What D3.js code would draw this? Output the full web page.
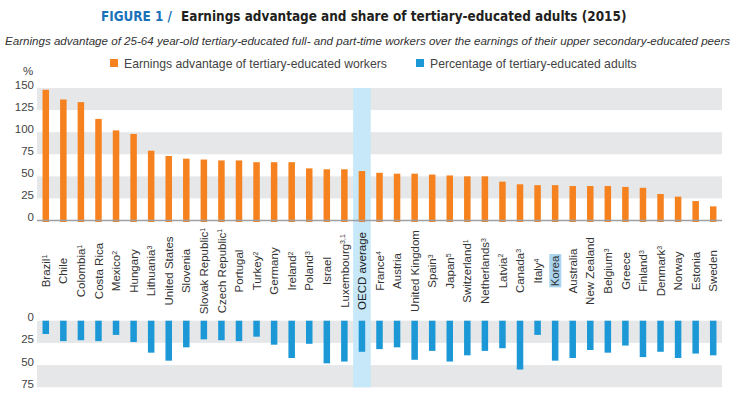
<!DOCTYPE html>
<html>
<head>
<meta charset="utf-8">
<script src="https://cdn.jsdelivr.net/npm/d3@7/dist/d3.min.js"></script>
<style>
  body { margin: 0; background: #fff; }
  svg { display: block; font-family: "Liberation Sans", Arial, sans-serif; }
</style>
</head>
<body>
<script>
// countries, left to right
var countries = ["Brazil", "Chile", "Colombia", "Costa Rica", "Mexico", "Hungary", "Lithuania",
  "United States", "Slovenia", "Slovak Republic", "Czech Republic", "Portugal", "Turkey", "Germany",
  "Ireland", "Poland", "Israel", "Luxembourg", "OECD average", "France", "Austria", "United Kingdom",
  "Spain", "Japan", "Switzerland", "Netherlands", "Latvia", "Canada", "Italy", "Korea", "Australia",
  "New Zealand", "Belgium", "Greece", "Finland", "Denmark", "Norway", "Estonia", "Sweden"];
// footnote numbers shown as superscripts
var notes = ["1", "", "1", "", "2", "", "3", "", "", "1", "1", "", "2", "", "2", "3", "", "3,1", "",
  "4", "", "", "3", "5", "1", "3", "2", "3", "4", "", "", "", "3", "", "3", "3", "", "", ""];
// earnings advantage of tertiary-educated workers (%)
var earnings = [148, 137, 134, 115, 102, 98, 79, 73, 70, 69, 68, 68, 66, 66, 66, 59, 58, 58, 56,
  54, 53, 53, 52, 51, 50, 50, 44, 41, 40, 40, 39, 39, 39, 38, 37, 30, 27, 22, 16];
// percentage of tertiary-educated adults
var share = [15, 23, 22, 23, 16, 24, 36, 45, 30, 21, 22, 23, 18, 27, 42, 26, 48, 46, 35,
  32, 30, 44, 34, 46, 39, 34, 31, 55, 16, 45, 42, 33, 36, 28, 41, 35, 42, 37, 39];
var topTicks = [0, 25, 50, 75, 100, 125, 150];
var bottomTicks = [0, 25, 50, 75];

var width = 736, height = 399;
var left = 37, right = 722;

var svg = d3.select("body").append("svg")
  .attr("width", width)
  .attr("height", height);

var x = d3.scaleBand()
  .domain(countries)
  .range([left, right])
  .paddingInner(0.63)
  .paddingOuter(0.315);

var yTop = d3.scaleLinear().domain([0, 150]).range([220.5, 88]);
var yBot = d3.scaleLinear().domain([0, 75]).range([320.7, 387.3]);

// fit a text's font size so it spans the given width
function fitText(sel, w) {
  var size = parseFloat(sel.style("font-size"));
  var len = sel.node().getComputedTextLength();
  sel.style("font-size", (size * w / len) + "px");
}

// title
var titleFont = "'DejaVu Sans Condensed', 'DejaVu Sans', sans-serif";
var fig = svg.append("text")
  .attr("x", 101).attr("y", 21)
  .attr("fill", "#1a72b9")
  .style("font-family", titleFont)
  .style("font-weight", "bold")
  .style("font-size", "14px")
  .text("FIGURE 1  /");
fitText(fig, 71);
var main = svg.append("text")
  .attr("x", 181).attr("y", 21)
  .attr("fill", "#231f20")
  .style("font-family", titleFont)
  .style("font-weight", "bold")
  .style("font-size", "14px")
  .text("Earnings advantage and share of tertiary-educated adults (2015)");
fitText(main, 446);

var sub = svg.append("text")
  .attr("x", 5).attr("y", 45)
  .attr("fill", "#333")
  .style("font-style", "italic")
  .style("font-size", "11.5px")
  .text("Earnings advantage of 25-64 year-old tertiary-educated full- and part-time workers over the earnings of their upper secondary-educated peers");
fitText(sub, 726);

// legend
var legend = [
  { label: "Earnings advantage of tertiary-educated workers", color: "#f5821f", x: 110 },
  { label: "Percentage of tertiary-educated adults", color: "#1b98d5", x: 416 }
];
legend.forEach(function(l) {
  svg.append("rect").attr("x", l.x).attr("y", 59).attr("width", 8).attr("height", 8).attr("fill", l.color);
  svg.append("text").attr("x", l.x + 14).attr("y", 67.5)
    .attr("fill", "#444").style("font-size", "12.2px").text(l.label);
});

// grey bands
var bands = svg.append("g");
[[125, 150], [75, 100], [25, 50]].forEach(function(b) {
  bands.append("rect").attr("x", left).attr("width", right - left)
    .attr("y", yTop(b[1])).attr("height", yTop(b[0]) - yTop(b[1])).attr("fill", "#e6e7e9");
});
[[0, 25], [50, 75]].forEach(function(b) {
  bands.append("rect").attr("x", left).attr("width", right - left)
    .attr("y", yBot(b[0])).attr("height", yBot(b[1]) - yBot(b[0])).attr("fill", "#e6e7e9");
});

// OECD highlight column
svg.append("rect")
  .attr("x", x("OECD average") - x.step() * x.paddingInner() / 2)
  .attr("width", x.step())
  .attr("y", yTop(150))
  .attr("height", yBot(75) - yTop(150))
  .attr("fill", "#c6e8f8");

// top bars
svg.append("g").selectAll("rect")
  .data(countries)
  .enter().append("rect")
  .attr("x", function(d) { return x(d); })
  .attr("width", x.bandwidth())
  .attr("y", function(d, i) { return yTop(earnings[i]); })
  .attr("height", function(d, i) { return yTop(0) - yTop(earnings[i]) + 1.5; })
  .attr("fill", "#f5821f");

// bottom bars
svg.append("g").selectAll("rect")
  .data(countries)
  .enter().append("rect")
  .attr("x", function(d) { return x(d); })
  .attr("width", x.bandwidth())
  .attr("y", yBot(0))
  .attr("height", function(d, i) { return yBot(share[i]) - yBot(0); })
  .attr("fill", "#1b98d5");

// axis line
svg.append("line")
  .attr("x1", left).attr("x2", right)
  .attr("y1", yTop(0)).attr("y2", yTop(0))
  .attr("stroke", "#9d9fa2").attr("stroke-width", 1.5);

// y axes
var axTop = svg.append("g").attr("transform", "translate(34,0)")
  .call(d3.axisLeft(yTop).tickValues(topTicks).tickSize(0).tickPadding(0));
var axBot = svg.append("g").attr("transform", "translate(34,0)")
  .call(d3.axisLeft(yBot).tickValues(bottomTicks).tickSize(0).tickPadding(0));
[axTop, axBot].forEach(function(a) {
  a.select(".domain").remove();
  a.selectAll("text")
    .attr("dy", "0")
    .attr("fill", "#444")
    .style("font-size", "11.5px")
    .style("font-family", "'Liberation Sans', Arial, sans-serif");
});

svg.append("text").attr("x", 28).attr("y", 75).attr("text-anchor", "middle")
  .attr("fill", "#444").style("font-size", "11.5px").text("%");

// country labels
var labels = svg.append("g").selectAll("g")
  .data(countries)
  .enter().append("g")
  .attr("transform", function(d) { return "translate(" + (x(d) + x.bandwidth() / 2) + ",271) rotate(-90)"; });

labels.each(function(d, i) {
  var g = d3.select(this);
  var t = g.append("text")
    .attr("text-anchor", "middle")
    .attr("dy", "0.36em")
    .attr("fill", d === "OECD average" ? "#222" : "#333")
    .style("font-size", "11.5px");
  t.append("tspan").text(d);
  if (notes[i] != "") {
    t.append("tspan").attr("dy", "-0.45em").style("font-size", "7px").text(notes[i]);
  }
  if (d === "Korea") {
    var bb = t.node().getBBox();
    g.insert("rect", "text")
      .attr("x", bb.x - 1).attr("y", bb.y)
      .attr("width", bb.width + 2).attr("height", bb.height)
      .attr("fill", "#a9d4ef");
  }
});
</script>
</body>
</html>
